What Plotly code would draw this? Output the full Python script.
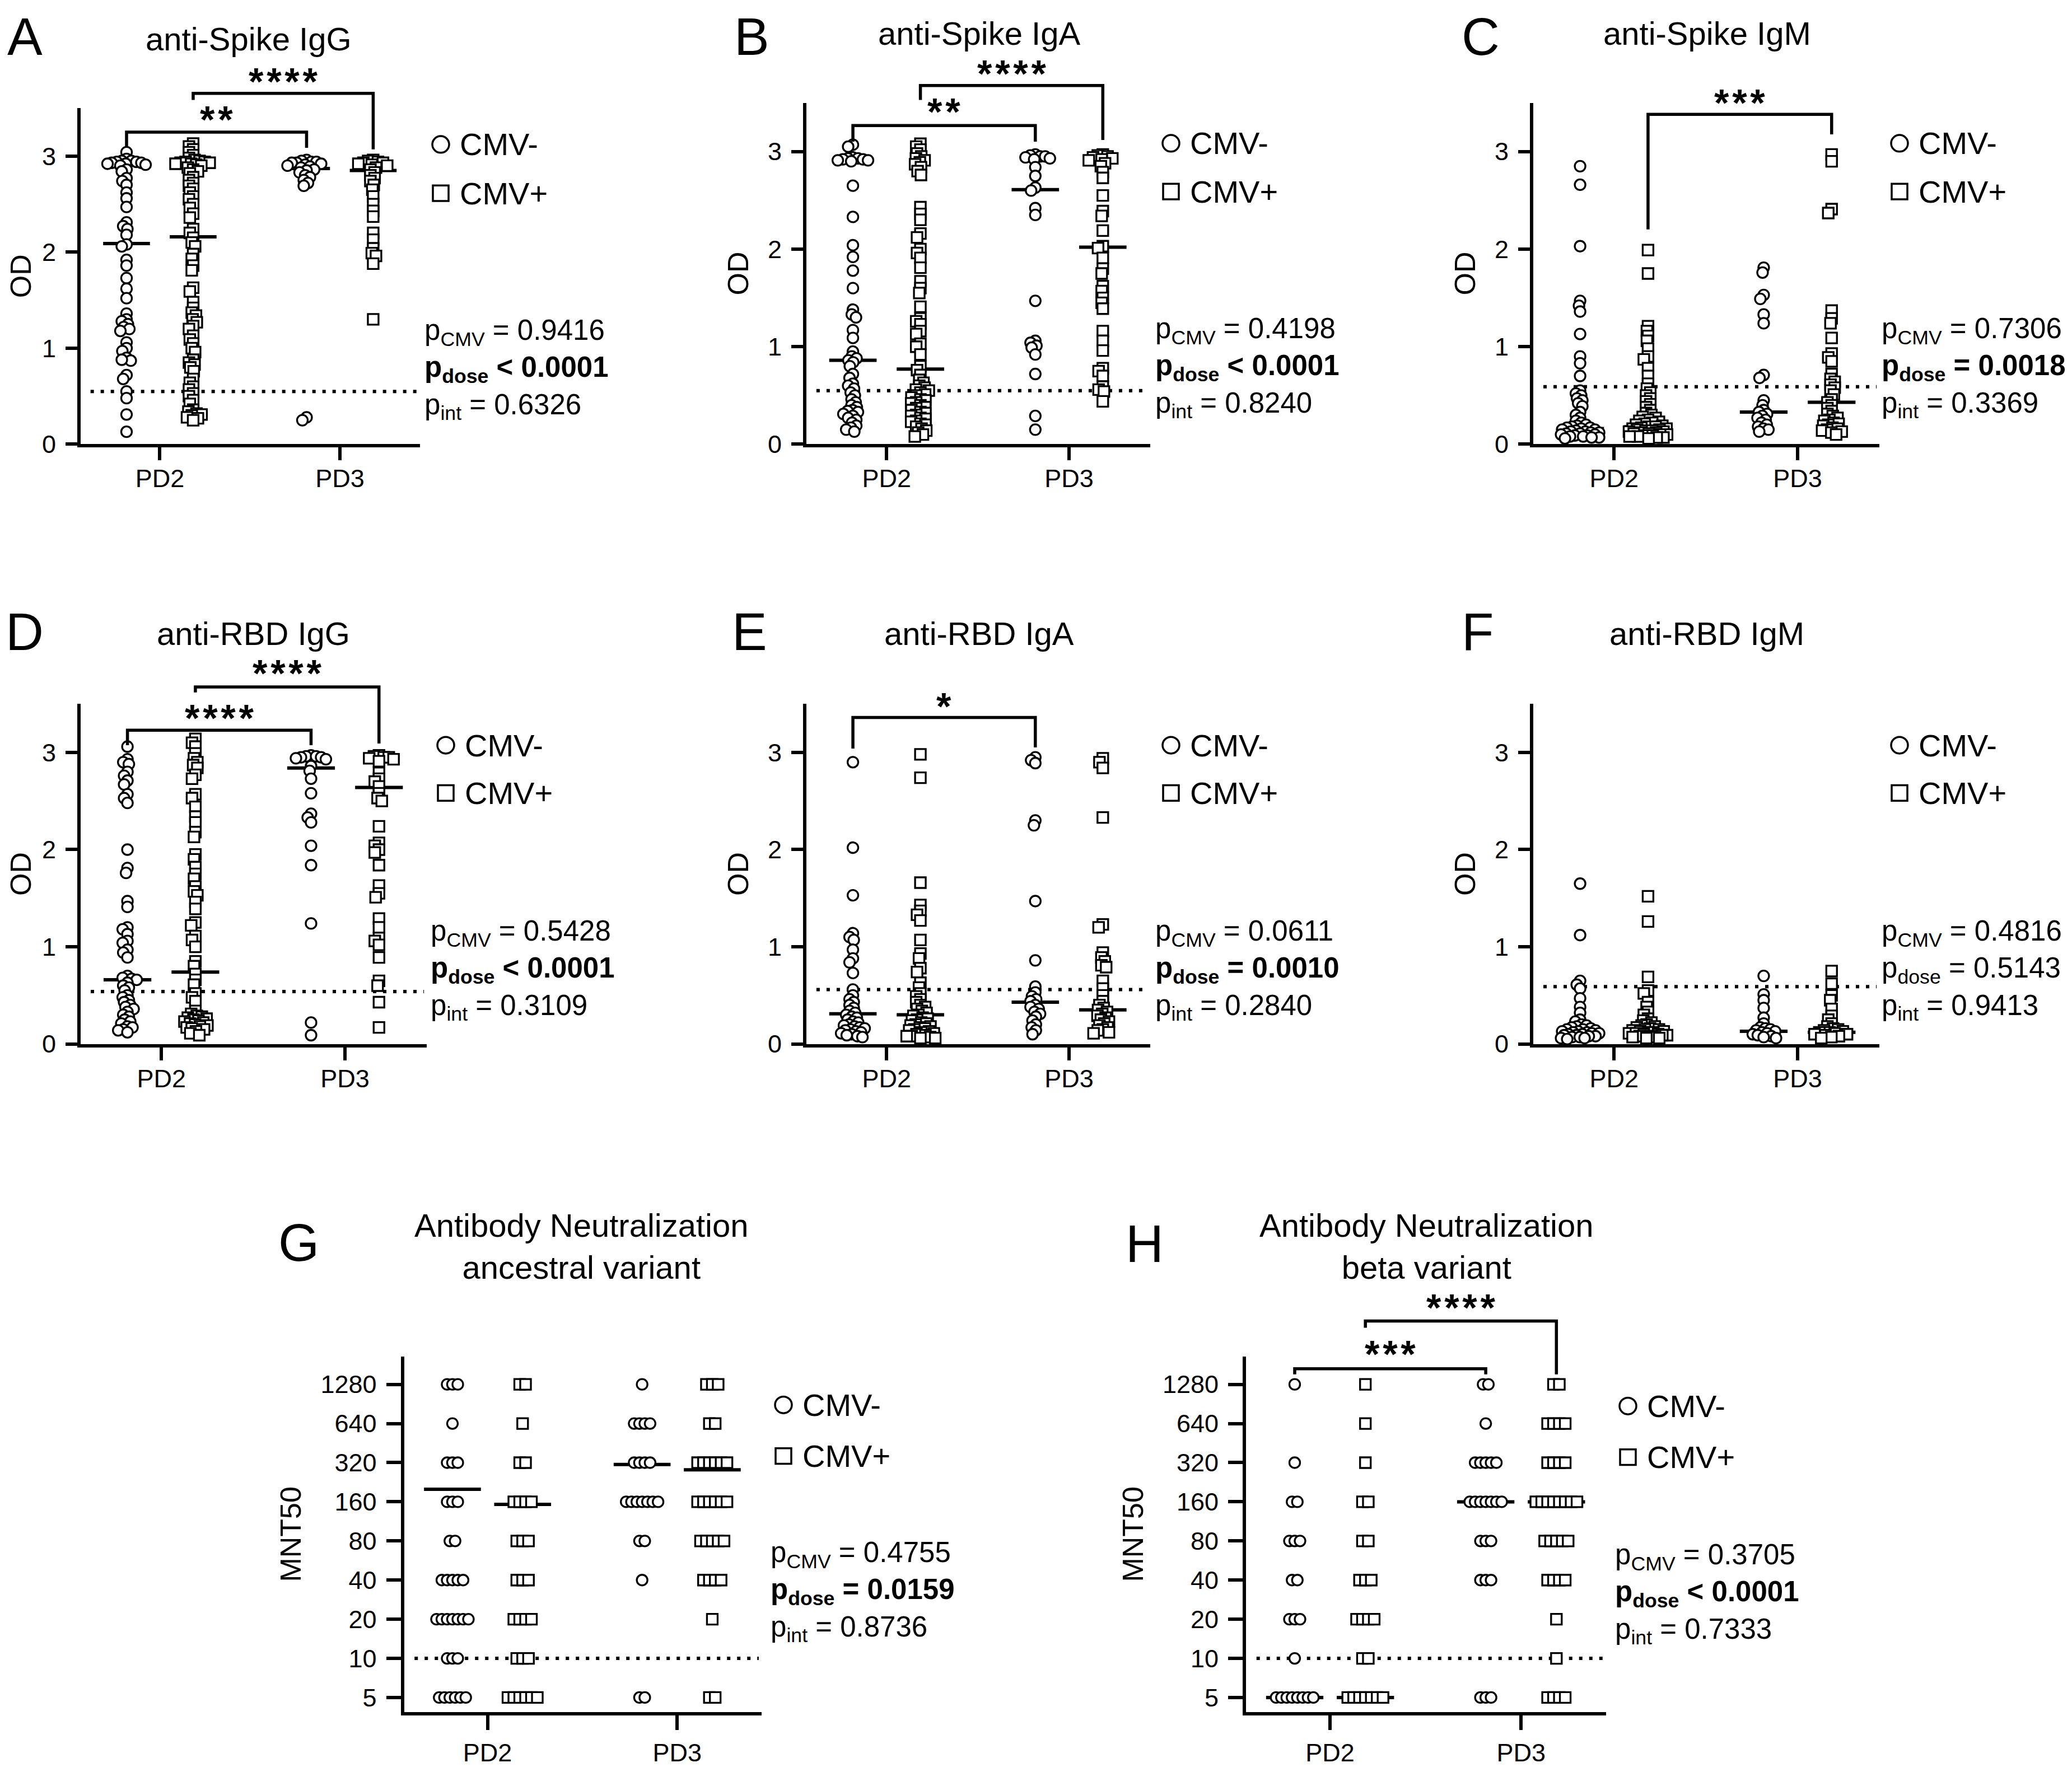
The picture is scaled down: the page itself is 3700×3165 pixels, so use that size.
import numpy as np
import plotly.graph_objects as go

W, H = 3700, 3165
FONT = "Liberation Sans, Arial, Helvetica, sans-serif"

categories = ["PD2", "PD3"]
cmv_labels = ["CMV-", "CMV+"]

# ---------------- Panel A: anti-Spike IgG (OD)
a_neg_pd2 = [3.04, 2.97, 2.95, 2.95, 2.94, 2.94, 2.93, 2.93, 2.92, 2.92, 2.91, 2.90, 2.86, 2.84, 2.77, 2.74,
             2.70, 2.62, 2.56, 2.47, 2.31, 2.27, 2.24, 2.18, 2.08, 2.06, 1.92, 1.86, 1.73, 1.62, 1.52, 1.36,
             1.30, 1.28, 1.25, 1.22, 1.20, 1.18, 1.06, 1.00, 0.97, 0.90, 0.87, 0.88, 0.72, 0.68, 0.55, 0.48,
             0.31, 0.13]
a_pos_pd2 = [3.13, 3.10, 3.07, 3.04, 3.01, 2.98, 2.96, 2.95, 2.94, 2.94, 2.93, 2.93, 2.92, 2.92, 2.91, 2.90,
             2.88, 2.86, 2.84, 2.82, 2.78, 2.75, 2.72, 2.69, 2.66, 2.62, 2.58, 2.55, 2.50, 2.46, 2.40, 2.36,
             2.24, 2.20, 2.15, 2.10, 2.06, 1.98, 1.93, 1.86, 1.81, 1.63, 1.59, 1.48, 1.42, 1.37, 1.34, 1.30,
             1.27, 1.23, 1.20, 1.13, 1.09, 1.05, 1.00, 0.96, 0.88, 0.85, 0.83, 0.80, 0.76, 0.68, 0.64, 0.60,
             0.57, 0.53, 0.50, 0.46, 0.42, 0.36, 0.34, 0.32, 0.31, 0.30, 0.28, 0.27, 0.25]
a_neg_pd3 = [2.96, 2.95, 2.94, 2.94, 2.93, 2.93, 2.92, 2.91, 2.90, 2.89, 2.88, 2.86, 2.85, 2.83, 2.80, 2.78,
             2.75, 2.72, 2.69, 0.28, 0.25]
a_pos_pd3 = [2.96, 2.95, 2.94, 2.93, 2.93, 2.92, 2.91, 2.90, 2.88, 2.86, 2.83, 2.80, 2.77, 2.74, 2.70, 2.65,
             2.58, 2.50, 2.43, 2.37, 2.20, 2.13, 2.04, 1.99, 1.96, 1.88, 1.30]
a_medians = [2.09, 2.16, 2.87, 2.85]
a_cutoff = 0.55
a_p = ["0.9416", "< 0.0001", "0.6326"]

# ---------------- Panel B: anti-Spike IgA (OD)
b_neg_pd2 = [3.07, 3.05, 2.94, 2.93, 2.93, 2.92, 2.92, 2.91, 2.91, 2.90, 2.65, 2.33, 2.04, 1.92, 1.78, 1.60,
             1.38, 1.33, 1.30, 1.17, 1.09, 0.95, 0.90, 0.88, 0.86, 0.84, 0.80, 0.72, 0.68, 0.62, 0.60, 0.57,
             0.53, 0.50, 0.46, 0.43, 0.40, 0.38, 0.35, 0.34, 0.33, 0.31, 0.29, 0.27, 0.25, 0.22, 0.19, 0.17,
             0.15, 0.13]
b_pos_pd2 = [3.08, 3.05, 3.02, 2.98, 2.95, 2.93, 2.91, 2.89, 2.87, 2.84, 2.80, 2.76, 2.43, 2.36, 2.30, 2.16,
             2.12, 2.00, 1.96, 1.91, 1.81, 1.67, 1.60, 1.55, 1.41, 1.29, 1.26, 1.23, 1.16, 1.13, 1.03, 1.00,
             0.92, 0.80, 0.76, 0.71, 0.66, 0.63, 0.60, 0.58, 0.56, 0.55, 0.53, 0.51, 0.50, 0.48, 0.46, 0.45,
             0.43, 0.42, 0.40, 0.38, 0.37, 0.35, 0.33, 0.32, 0.30, 0.29, 0.27, 0.26, 0.24, 0.23, 0.21, 0.20,
             0.18, 0.16, 0.14, 0.12, 0.10, 0.08]
b_neg_pd3 = [2.97, 2.96, 2.95, 2.95, 2.94, 2.93, 2.92, 2.84, 2.75, 2.63, 2.60, 2.42, 2.35, 1.47, 1.06, 1.04,
             1.01, 0.99, 0.92, 0.72, 0.29, 0.15]
b_pos_pd3 = [2.97, 2.96, 2.95, 2.94, 2.93, 2.92, 2.91, 2.88, 2.85, 2.79, 2.73, 2.55, 2.39, 2.34, 2.19, 2.03,
             2.01, 1.91, 1.80, 1.75, 1.62, 1.57, 1.50, 1.45, 1.39, 1.16, 1.06, 0.96, 0.78, 0.75, 0.70, 0.59,
             0.56, 0.54, 0.44]
b_medians = [0.86, 0.77, 2.61, 2.02]
b_cutoff = 0.55
b_p = ["0.4198", "< 0.0001", "0.8240"]

# ---------------- Panel C: anti-Spike IgM (OD)
c_neg_pd2 = [2.85, 2.66, 2.03, 1.47, 1.42, 1.36, 1.13, 0.90, 0.83, 0.70, 0.55, 0.52, 0.50, 0.47, 0.45, 0.42,
             0.39, 0.33, 0.30, 0.27, 0.24, 0.22, 0.20, 0.19, 0.18, 0.17, 0.17, 0.16, 0.15, 0.15, 0.14, 0.13,
             0.13, 0.12, 0.12, 0.11, 0.11, 0.10, 0.10, 0.09, 0.09, 0.08, 0.08, 0.07, 0.07, 0.06]
c_pos_pd2 = [1.99, 1.75, 1.21, 1.16, 1.11, 1.06, 0.98, 0.90, 0.87, 0.78, 0.70, 0.62, 0.57, 0.53, 0.50, 0.47,
             0.44, 0.41, 0.38, 0.35, 0.32, 0.30, 0.28, 0.27, 0.25, 0.24, 0.23, 0.22, 0.21, 0.20, 0.19, 0.18,
             0.18, 0.17, 0.16, 0.16, 0.15, 0.15, 0.14, 0.14, 0.13, 0.13, 0.12, 0.12, 0.11, 0.11, 0.10, 0.10,
             0.09, 0.09, 0.08, 0.08, 0.07, 0.07, 0.06]
c_neg_pd3 = [1.81, 1.76, 1.53, 1.49, 1.33, 1.24, 0.71, 0.68, 0.45, 0.40, 0.35, 0.33, 0.31, 0.29, 0.27, 0.25,
             0.22, 0.20, 0.18, 0.16, 0.15, 0.13]
c_pos_pd3 = [2.97, 2.90, 2.41, 2.37, 1.37, 1.29, 1.24, 1.09, 0.93, 0.89, 0.85, 0.72, 0.67, 0.64, 0.61, 0.58,
             0.55, 0.51, 0.46, 0.43, 0.40, 0.37, 0.34, 0.31, 0.29, 0.27, 0.25, 0.24, 0.22, 0.21, 0.20, 0.19,
             0.17, 0.16, 0.15, 0.14, 0.13, 0.12, 0.10]
c_medians = [0.16, 0.18, 0.33, 0.43]
c_cutoff = 0.59
c_p = ["0.7306", "= 0.0018", "0.3369"]

# ---------------- Panel D: anti-RBD IgG (OD)
d_neg_pd2 = [3.06, 2.93, 2.90, 2.88, 2.80, 2.76, 2.71, 2.67, 2.57, 2.53, 2.48, 2.00, 1.81, 1.76, 1.47, 1.41,
             1.20, 1.18, 1.13, 1.06, 1.04, 0.97, 0.94, 0.89, 0.70, 0.68, 0.67, 0.66, 0.63, 0.60, 0.58, 0.55,
             0.50, 0.48, 0.45, 0.43, 0.40, 0.38, 0.36, 0.33, 0.30, 0.28, 0.25, 0.23, 0.21, 0.18, 0.17, 0.15,
             0.14, 0.12]
d_pos_pd2 = [3.14, 3.10, 3.06, 2.99, 2.94, 2.90, 2.87, 2.84, 2.77, 2.73, 2.57, 2.53, 2.44, 2.34, 2.28, 2.18,
             2.13, 1.95, 1.90, 1.82, 1.75, 1.70, 1.62, 1.57, 1.53, 1.46, 1.39, 1.25, 1.22, 1.11, 1.07, 1.00,
             0.85, 0.80, 0.72, 0.66, 0.61, 0.52, 0.48, 0.44, 0.34, 0.31, 0.29, 0.28, 0.27, 0.26, 0.25, 0.24,
             0.23, 0.22, 0.21, 0.20, 0.19, 0.18, 0.17, 0.16, 0.15, 0.13, 0.11, 0.09]
d_neg_pd3 = [2.97, 2.96, 2.96, 2.95, 2.95, 2.94, 2.93, 2.86, 2.81, 2.73, 2.58, 2.37, 2.33, 2.28, 2.04, 1.84,
             1.24, 0.22, 0.09]
d_pos_pd3 = [2.97, 2.96, 2.95, 2.95, 2.94, 2.93, 2.91, 2.79, 2.73, 2.70, 2.65, 2.58, 2.53, 2.50, 2.24, 2.07,
             2.04, 2.00, 1.97, 1.84, 1.63, 1.55, 1.51, 1.29, 1.20, 1.09, 1.06, 1.02, 0.89, 0.65, 0.60, 0.43,
             0.17]
d_medians = [0.66, 0.74, 2.84, 2.64]
d_cutoff = 0.54
d_p = ["0.5428", "< 0.0001", "0.3109"]

# ---------------- Panel E: anti-RBD IgA (OD)
e_neg_pd2 = [2.90, 2.02, 1.53, 1.14, 1.10, 1.07, 0.97, 0.88, 0.84, 0.73, 0.56, 0.50, 0.46, 0.43, 0.40, 0.37,
             0.34, 0.32, 0.30, 0.28, 0.27, 0.25, 0.23, 0.22, 0.20, 0.19, 0.18, 0.17, 0.16, 0.15, 0.14, 0.13,
             0.12, 0.11, 0.10, 0.09, 0.08, 0.07]
e_pos_pd2 = [2.98, 2.74, 1.66, 1.43, 1.37, 1.33, 1.27, 1.07, 0.93, 0.88, 0.78, 0.74, 0.63, 0.58, 0.52, 0.49,
             0.46, 0.43, 0.40, 0.38, 0.36, 0.34, 0.32, 0.30, 0.29, 0.27, 0.26, 0.25, 0.24, 0.22, 0.21, 0.20,
             0.19, 0.18, 0.17, 0.16, 0.15, 0.14, 0.13, 0.12, 0.11, 0.10, 0.09, 0.08, 0.08, 0.07, 0.06, 0.06]
e_neg_pd3 = [2.95, 2.92, 2.89, 2.30, 2.25, 1.47, 0.86, 0.59, 0.53, 0.49, 0.46, 0.44, 0.40, 0.38, 0.36, 0.33,
             0.31, 0.28, 0.24, 0.20, 0.17, 0.14, 0.10]
e_pos_pd3 = [2.94, 2.90, 2.84, 2.33, 1.23, 1.20, 0.94, 0.89, 0.85, 0.81, 0.79, 0.65, 0.57, 0.50, 0.44, 0.40,
             0.37, 0.35, 0.33, 0.31, 0.29, 0.27, 0.25, 0.23, 0.21, 0.19, 0.17, 0.15, 0.14, 0.12, 0.11]
e_medians = [0.31, 0.30, 0.43, 0.35]
e_cutoff = 0.56
e_p = ["0.0611", "= 0.0010", "0.2840"]

# ---------------- Panel F: anti-RBD IgM (OD)
f_neg_pd2 = [1.65, 1.12, 0.65, 0.61, 0.57, 0.47, 0.38, 0.32, 0.25, 0.23, 0.20, 0.19, 0.18, 0.17, 0.16, 0.15,
             0.15, 0.14, 0.13, 0.13, 0.12, 0.12, 0.11, 0.11, 0.10, 0.10, 0.09, 0.09, 0.08, 0.08, 0.07, 0.07,
             0.06, 0.06, 0.05]
f_pos_pd2 = [1.52, 1.26, 0.69, 0.55, 0.52, 0.43, 0.38, 0.33, 0.30, 0.26, 0.24, 0.22, 0.20, 0.19, 0.18, 0.17,
             0.16, 0.15, 0.15, 0.14, 0.13, 0.13, 0.12, 0.12, 0.11, 0.11, 0.10, 0.10, 0.09, 0.09, 0.08, 0.08,
             0.07, 0.07, 0.06, 0.06]
f_neg_pd3 = [0.70, 0.51, 0.45, 0.37, 0.27, 0.21, 0.17, 0.16, 0.15, 0.14, 0.13, 0.12, 0.11, 0.10, 0.09, 0.08,
             0.07, 0.06]
f_pos_pd3 = [0.75, 0.62, 0.50, 0.45, 0.36, 0.29, 0.25, 0.21, 0.18, 0.16, 0.15, 0.14, 0.13, 0.12, 0.12, 0.11,
             0.10, 0.10, 0.09, 0.08, 0.07, 0.06]
f_medians = [0.11, 0.12, 0.13, 0.12]
f_cutoff = 0.59
f_p = ["0.4816", "= 0.5143", "0.9413"]

# ---------------- Panel G: neutralization, ancestral (MNT50)
g_neg_pd2 = [1280, 1280, 1280, 640, 320, 320, 320, 160, 160, 160, 80, 80, 40, 40, 40, 40, 40,
             20, 20, 20, 20, 20, 20, 20, 10, 10, 10, 5, 5, 5, 5, 5, 5]
g_pos_pd2 = [1280, 1280, 640, 320, 320, 160, 160, 160, 160, 80, 80, 80, 40, 40, 40, 20, 20, 20, 20,
             10, 10, 10, 5, 5, 5, 5, 5, 5]
g_neg_pd3 = [1280, 640, 640, 640, 640, 320, 320, 320, 320, 160, 160, 160, 160, 160, 160, 160, 80, 80, 40,
             5, 5]
g_pos_pd3 = [1280, 1280, 1280, 640, 640, 320, 320, 320, 320, 320, 320, 160, 160, 160, 160, 160, 160,
             80, 80, 80, 80, 80, 40, 40, 40, 40, 20, 5, 5]
g_medians = [200, 153, 310, 282]
g_cutoff = 10
g_p = ["0.4755", "= 0.0159", "0.8736"]

# ---------------- Panel H: neutralization, beta (MNT50)
h_neg_pd2 = [1280, 320, 160, 160, 80, 80, 80, 40, 40, 20, 20, 20, 10, 5, 5, 5, 5, 5, 5, 5, 5]
h_pos_pd2 = [1280, 640, 320, 160, 160, 80, 80, 40, 40, 40, 20, 20, 20, 20, 10, 10, 5, 5, 5, 5, 5, 5, 5]
h_neg_pd3 = [1280, 1280, 640, 320, 320, 320, 320, 320, 160, 160, 160, 160, 160, 160, 160, 80, 80, 80,
             40, 40, 40, 5, 5, 5]
h_pos_pd3 = [1280, 1280, 640, 640, 640, 640, 320, 320, 320, 320, 160, 160, 160, 160, 160, 160, 160, 160,
             80, 80, 80, 80, 80, 40, 40, 40, 40, 20, 10, 5, 5, 5, 5]
h_medians = [5, 5, 160, 160]
h_cutoff = 10
h_p = ["0.3705", "< 0.0001", "0.7333"]

mnt_ticks = [5, 10, 20, 40, 80, 160, 320, 640, 1280]
od_ticks = [0, 1, 2, 3]

# ---------------- layout / style settings (pixels of the 3700x3165 page)
XR = [-0.44, 1.445]
GROUP_OFF = [-0.185, 0.185]
CUT_X = [-0.385, 1.43]
LW = 6

panels = [
    dict(letter="A", title="anti-Spike IgG", data=[a_neg_pd2, a_pos_pd2, a_neg_pd3, a_pos_pd3],
         med=a_medians, cut=a_cutoff, p=a_p, bold=True, box=(136, 742, 792, 186.5), yr=(0, 3.5), log=False,
         letter_xy=(36, 58), title_xy=(436, 62), leg=(779, 252, 340), p_xy=(748, 657),
         brackets=[(0, 2, 230, 258, 258, "**", 192), (1, 3, 160, 172, 261, "****", 123)]),
    dict(letter="B", title="anti-Spike IgA", data=[b_neg_pd2, b_pos_pd2, b_neg_pd3, b_pos_pd3],
         med=b_medians, cut=b_cutoff, p=b_p, bold=True, box=(1432, 2046, 792, 177), yr=(0, 3.5), log=False,
         letter_xy=(1334, 58), title_xy=(1740, 52), leg=(2083, 250, 337), p_xy=(2053, 654),
         brackets=[(0, 2, 218, 247, 247, "**", 178), (1, 3, 146, 172, 244, "****", 109)]),
    dict(letter="C", title="anti-Spike IgM", data=[c_neg_pd2, c_pos_pd2, c_neg_pd3, c_pos_pd3],
         med=c_medians, cut=c_cutoff, p=c_p, bold=True, box=(2730, 3348, 792, 177), yr=(0, 3.5), log=False,
         letter_xy=(2636, 58), title_xy=(3040, 52), leg=(3384, 250, 337), p_xy=(3350, 654),
         brackets=[(1, 3, 198, 405, 234, "***", 161)]),
    dict(letter="D", title="anti-RBD IgG", data=[d_neg_pd2, d_pos_pd2, d_neg_pd3, d_pos_pd3],
         med=d_medians, cut=d_cutoff, p=d_p, bold=True, box=(136, 754, 1872, 1259.5), yr=(0, 3.5), log=False,
         letter_xy=(36, 1130), title_xy=(444, 1133), leg=(788, 1334, 1420), p_xy=(759, 1739),
         brackets=[(0, 2, 1307, 1334, 1334, "****", 1270), (1, 3, 1229, 1239, 1331, "****", 1189)]),
    dict(letter="E", title="anti-RBD IgA", data=[e_neg_pd2, e_pos_pd2, e_neg_pd3, e_pos_pd3],
         med=e_medians, cut=e_cutoff, p=e_p, bold=True, box=(1432, 2046, 1872, 1259.5), yr=(0, 3.5), log=False,
         letter_xy=(1330, 1130), title_xy=(1740, 1133), leg=(2083, 1334, 1420), p_xy=(2053, 1739),
         brackets=[(0, 2, 1284, 1340, 1338, "*", 1248)]),
    dict(letter="F", title="anti-RBD IgM", data=[f_neg_pd2, f_pos_pd2, f_neg_pd3, f_pos_pd3],
         med=f_medians, cut=f_cutoff, p=f_p, bold=False, box=(2730, 3348, 1872, 1259.5), yr=(0, 3.5), log=False,
         letter_xy=(2630, 1130), title_xy=(3040, 1133), leg=(3384, 1334, 1420), p_xy=(3350, 1739),
         brackets=[]),
    dict(letter="G", title="Antibody Neutralization<br>ancestral variant",
         data=[g_neg_pd2, g_pos_pd2, g_neg_pd3, g_pos_pd3],
         med=g_medians, cut=g_cutoff, p=g_p, bold=True, box=(713.6, 1352, 3075, 2435), yr=(0.588, 3.321), log=True,
         letter_xy=(525, 2230), title_xy=(1030, 2236), leg=(1391, 2522, 2614), p_xy=(1366, 2858),
         brackets=[]),
    dict(letter="H", title="Antibody Neutralization<br>beta variant",
         data=[h_neg_pd2, h_pos_pd2, h_neg_pd3, h_pos_pd3],
         med=h_medians, cut=h_cutoff, p=h_p, bold=True, box=(2217, 2860, 3075, 2435), yr=(0.588, 3.321), log=True,
         letter_xy=(2036, 2232), title_xy=(2539, 2236), leg=(2899, 2524, 2616), p_xy=(2874, 2862),
         brackets=[(0, 2, 2457, 2467, 2467, "***", 2415), (1, 3, 2371, 2383, 2467, "****", 2331)]),
]


def fx(px):
    return px / W


def fy(py):
    return 1 - py / H


def swarm(vals, ppx, ppy, dmin, cap):
    """Beeswarm x-offsets (axis units), computed in pixel space, with a maximum half-width."""
    v = np.asarray(vals, float)
    ys = v * ppy
    order = np.argsort(-ys, kind="stable")
    steps = np.arange(1, int(cap * 2) + 1) * 0.5
    cands = np.concatenate([[0.0], np.column_stack([-steps, steps]).ravel()])
    px_, py_ = [], []
    out = np.zeros(len(v))
    for i in order:
        y = ys[i]
        x = 0.0
        if px_:
            P = np.array(px_)
            Q = np.array(py_)
            near = np.abs(Q - y) < dmin
            if near.any():
                dx = cands[:, None] - P[near][None, :]
                dy = (y - Q[near])[None, :]
                d2 = dx ** 2 + dy ** 2
                ok = np.all(d2 >= dmin ** 2, axis=1)
                if ok.any():
                    x = cands[np.argmax(ok)]
                else:
                    x = cands[np.argmax(d2.min(axis=1))]
        out[i] = x / ppx
        px_.append(x)
        py_.append(y)
    return out


def rows(vals, ppx, step):
    """Centered rows for identical (discrete) values."""
    v = np.asarray(vals, float)
    out = np.zeros(len(v))
    for u in np.unique(v):
        idx = np.where(v == u)[0]
        n = len(idx)
        out[idx] = (np.arange(n) - (n - 1) / 2) * step / ppx
    return out


fig = go.Figure()
annotations = []
shapes = []
layout_axes = {}

for k, pn in enumerate(panels):
    i = k + 1
    xn = "x" if i == 1 else f"x{i}"
    yn = "y" if i == 1 else f"y{i}"
    xkey = "xaxis" if i == 1 else f"xaxis{i}"
    ykey = "yaxis" if i == 1 else f"yaxis{i}"
    left, right, bottom, top = pn["box"]
    ppx = (right - left) / (XR[1] - XR[0])
    ppy = (bottom - top) / (pn["yr"][1] - pn["yr"][0])
    log = pn["log"]

    # detection cutoff (dotted) - drawn beneath the points
    fig.add_trace(go.Scatter(x=CUT_X, y=[pn["cut"], pn["cut"]], xaxis=xn, yaxis=yn, mode="lines",
                             line=dict(color="black", width=6, dash="6px,12px"),
                             showlegend=False, hoverinfo="skip"))

    # median lines - beneath the points
    half = 0.15 if log else 0.13
    mx, my = [], []
    for gi, m in enumerate(pn["med"]):
        c = gi // 2 + GROUP_OFF[gi % 2]
        mx += [c - half, c + half, None]
        my += [m, m, None]
    fig.add_trace(go.Scatter(x=mx, y=my, xaxis=xn, yaxis=yn, mode="lines",
                             line=dict(color="black", width=6), showlegend=False, hoverinfo="skip"))

    # data points
    for gi, vals in enumerate(pn["data"]):
        cat = gi // 2
        cmv = gi % 2
        if log:
            off = rows(vals, ppx, 9.5 if cmv == 0 else 10.5)
        else:
            off = swarm(vals, ppx, ppy, 9.0, 34)
        xs = cat + GROUP_OFF[cmv] + off
        fig.add_trace(go.Scatter(
            x=xs, y=vals, xaxis=xn, yaxis=yn, mode="markers", cliponaxis=False,
            marker=dict(symbol="circle" if cmv == 0 else "square", size=19, color="white",
                        line=dict(color="black", width=3.3)),
            name=f"{cmv_labels[cmv]} {categories[cat]}", showlegend=False, hoverinfo="skip"))

    # axes
    dom_x = [fx(left), fx(right)]
    dom_y = [fy(bottom), fy(top)]
    tickfont = dict(family=FONT, size=45, color="black")
    layout_axes[xkey] = dict(
        domain=dom_x, range=XR, anchor=yn, tickvals=[0, 1], ticktext=categories,
        showline=True, linewidth=LW, linecolor="black", ticks="outside",
        ticklen=26 if log else 23, tickwidth=LW, tickcolor="black", showgrid=False, zeroline=False,
        tickfont=tickfont, ticklabelstandoff=2 if log else -6, fixedrange=True)
    yax = dict(
        domain=dom_y, anchor=xn, showline=True, linewidth=LW, linecolor="black", ticks="outside",
        ticklen=26 if log else 21, tickwidth=LW, tickcolor="black", showgrid=False, zeroline=False,
        tickfont=tickfont, ticklabelstandoff=8, fixedrange=True,
        title=dict(text="MNT50" if log else "OD", font=dict(family=FONT, size=52, color="black"),
                   standoff=20))
    if log:
        yax.update(type="log", range=list(pn["yr"]), tickvals=mnt_ticks,
                   ticktext=[str(t) for t in mnt_ticks])
    else:
        yax.update(range=list(pn["yr"]), tickvals=od_ticks)
    layout_axes[ykey] = yax

    # panel letter and title
    lx, ly = pn["letter_xy"]
    annotations.append(dict(text=pn["letter"], x=fx(lx), y=fy(ly), xref="paper", yref="paper",
                            showarrow=False, xanchor="center", yanchor="middle",
                            font=dict(family=FONT, size=94, color="black")))
    tx, ty = pn["title_xy"]
    annotations.append(dict(text=pn["title"], x=fx(tx), y=fy(ty), xref="paper", yref="paper",
                            showarrow=False, xanchor="center", yanchor="middle", align="center",
                            font=dict(family=FONT, size=58, color="black")))

    # legend (symbols + text)
    gx, gy1, gy2 = pn["leg"]
    r = 15
    shapes.append(dict(type="circle", xref="paper", yref="paper", x0=fx(gx - r), x1=fx(gx + r),
                       y0=fy(gy1 + r), y1=fy(gy1 - r), line=dict(color="black", width=3.5),
                       fillcolor="white"))
    s = 14
    shapes.append(dict(type="rect", xref="paper", yref="paper", x0=fx(gx - s), x1=fx(gx + s),
                       y0=fy(gy2 + s), y1=fy(gy2 - s), line=dict(color="black", width=3.5),
                       fillcolor="white"))
    for lab, gy in zip(cmv_labels, [gy1, gy2]):
        annotations.append(dict(text=lab, x=fx(gx + 32), y=fy(gy), xref="paper", yref="paper",
                                showarrow=False, xanchor="left", yanchor="middle",
                                font=dict(family=FONT, size=56, color="black")))

    # p-values
    p = pn["p"]
    dose = f"p<sub>dose</sub> {p[1].replace('<', '&lt;')}"
    if pn["bold"]:
        dose = f"<b>{dose}</b>"
    ptxt = f"p<sub>CMV</sub> = {p[0]}<br>{dose}<br>p<sub>int</sub> = {p[2]}"
    px0, py0 = pn["p_xy"]
    annotations.append(dict(text=ptxt, x=fx(px0), y=fy(py0), xref="paper", yref="paper",
                            showarrow=False, xanchor="left", yanchor="middle", align="left",
                            font=dict(family=FONT, size=51, color="black")))

    # significance brackets
    def dom(py):
        return (bottom - py) / (bottom - top)

    for (g0, g1, ybar, yl, yrr, lab, ylab) in pn["brackets"]:
        x0 = g0 // 2 + GROUP_OFF[g0 % 2]
        x1 = g1 // 2 + GROUP_OFF[g1 % 2]
        shapes.append(dict(type="path", xref=xn, yref=f"{yn} domain",
                           path=f"M{x0},{dom(yl)} L{x0},{dom(ybar)} L{x1},{dom(ybar)} L{x1},{dom(yrr)}",
                           line=dict(color="black", width=5.5)))
        stars = "\u200a".join(lab)
        annotations.append(dict(text=f"<b>{stars}</b>", x=(x0 + x1) / 2, y=dom(ylab + 15),
                                xref=xn, yref=f"{yn} domain", showarrow=False,
                                xanchor="center", yanchor="middle",
                                font=dict(family=FONT, size=68, color="black")))

fig.update_layout(
    width=W, height=H, autosize=False,
    margin=dict(l=0, r=0, t=0, b=0, pad=0),
    paper_bgcolor="white", plot_bgcolor="rgba(0,0,0,0)",
    showlegend=False, hovermode=False,
    font=dict(family=FONT, color="black"),
    annotations=annotations, shapes=shapes,
    **layout_axes)

fig.write_html("out.html")
